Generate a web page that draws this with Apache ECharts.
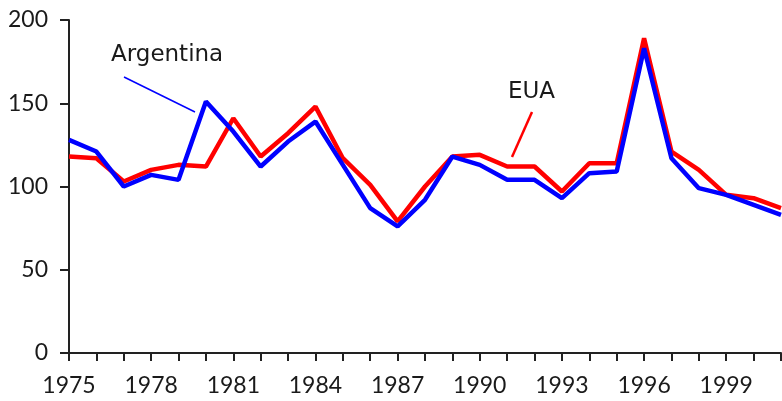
<!DOCTYPE html>
<html>
<head>
<meta charset="utf-8">
<script src="https://cdn.jsdelivr.net/npm/echarts@6/dist/echarts.min.js"></script>
<style>
html,body{margin:0;padding:0;background:#fff;}
#chart{width:782px;height:401px;}
</style>
</head>
<body>
<div id="chart"></div>
<script>
var years = ['1975','1976','1977','1978','1979','1980','1981','1982','1983','1984','1985','1986','1987','1988','1989','1990','1991','1992','1993','1994','1995','1996','1997','1998','1999','2000','2001'];
var argentina = [128, 121, 100, 107, 104, 151, 133, 112, 127, 139, 113, 87, 76, 92, 118, 113, 104, 104, 93, 108, 109, 183, 117, 99, 95, 89, 83];
var eua = [118, 117, 103, 110, 113, 112, 141, 118, 132, 148, 117, 101, 79, 100, 118, 119, 112, 112, 97, 114, 114, 189, 121, 110, 95, 93, 87];
var yTicks = [0, 50, 100, 150, 200];

var FONT = 'Lato';
var ANN_FONT = '"DejaVu Sans"';
var chart = echarts.init(document.getElementById('chart'), null, {renderer: 'canvas'});
chart.setOption({
  animation: false,
  backgroundColor: '#ffffff',
  grid: {left: 69, right: 1, top: 20, bottom: 48, containLabel: false},
  xAxis: {
    type: 'category',
    data: years,
    boundaryGap: false,
    axisLine: {show: true, lineStyle: {color: '#222', width: 2}},
    axisTick: {show: true, interval: 0, length: 8, lineStyle: {color: '#222', width: 2}},
    axisLabel: {interval: 2, color: '#1a1a1a', fontFamily: FONT, fontSize: 23, margin: 21},
    splitLine: {show: false}
  },
  yAxis: {
    type: 'value',
    min: yTicks[0],
    max: yTicks[yTicks.length - 1],
    interval: 50,
    axisLine: {show: true, lineStyle: {color: '#222', width: 2}},
    axisTick: {show: true, length: 9, lineStyle: {color: '#222', width: 2}},
    axisLabel: {color: '#1a1a1a', fontFamily: FONT, fontSize: 23, margin: 21},
    splitLine: {show: false}
  },
  series: [
    {
      name: 'EUA',
      type: 'line',
      data: eua,
      symbol: 'none',
      lineStyle: {color: '#ff0000', width: 4.5},
      itemStyle: {color: '#ff0000'},
      z: 2
    },
    {
      name: 'Argentina',
      type: 'line',
      data: argentina,
      symbol: 'none',
      lineStyle: {color: '#0000ff', width: 4.5},
      itemStyle: {color: '#0000ff'},
      z: 3
    }
  ],
  graphic: [
    {type: 'text', left: 111, top: 44, z: 10,
      style: {text: 'Argentina', font: '23px ' + ANN_FONT, fill: '#1a1a1a'}},
    {type: 'line', z: 10,
      shape: {x1: 124, y1: 77, x2: 195, y2: 112},
      style: {stroke: '#0000ff', lineWidth: 1.5}},
    {type: 'text', left: 508, top: 81, z: 10,
      style: {text: 'EUA', font: '23px ' + ANN_FONT, fill: '#1a1a1a'}},
    {type: 'line', z: 10,
      shape: {x1: 532, y1: 112, x2: 512, y2: 157},
      style: {stroke: '#ff0000', lineWidth: 2.5}}
  ]
});
</script>
</body>
</html>
